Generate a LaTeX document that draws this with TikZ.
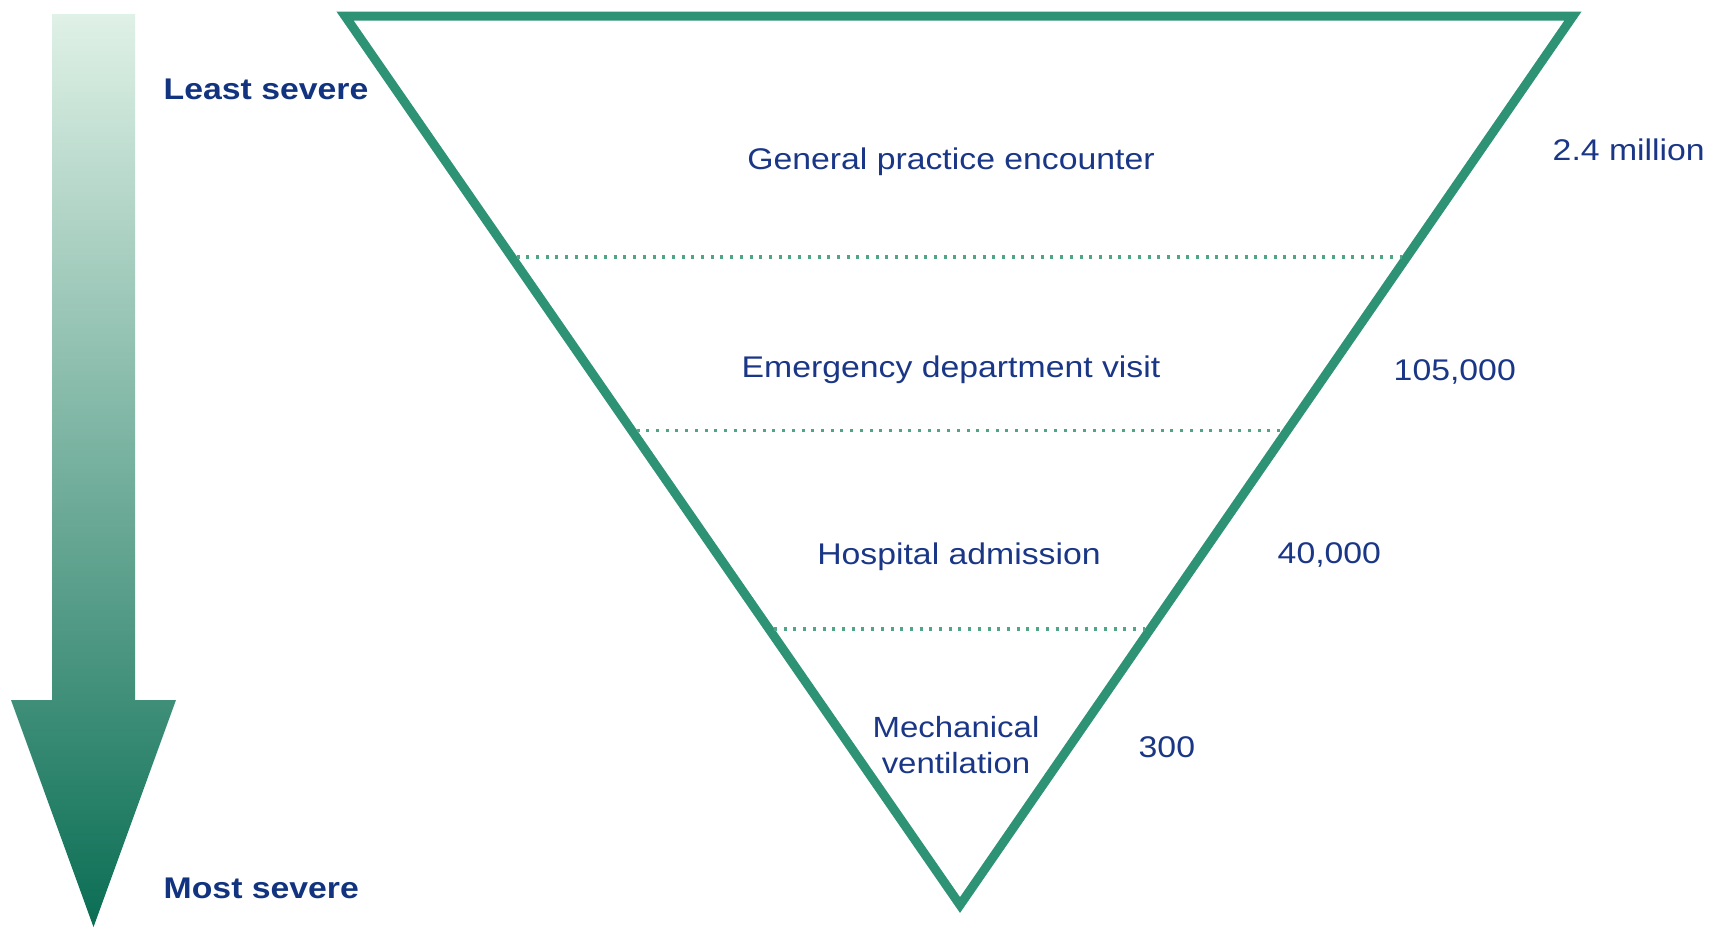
\documentclass[tikz,border=0pt]{standalone}
\usepackage{fontspec}
\setmainfont{Liberation Sans}[FakeStretch=1.13]
\usepackage{xcolor}
\usetikzlibrary{calc}

\definecolor{funnelgreen}{RGB}{46,146,116}
\definecolor{dotgreen}{RGB}{80,166,132}
\definecolor{labelblue}{RGB}{26,54,134}
\definecolor{headblue}{RGB}{18,52,128}
\definecolor{arrowtop}{RGB}{224,241,231}
\definecolor{arrowmid}{RGB}{98,170,142}
\definecolor{arrowbot}{RGB}{10,110,84}

\begin{document}
\begin{tikzpicture}[
  x=0.01cm, y=-0.01cm,
  font=\fontsize{8.5}{10}\selectfont,
  band/.style={text=labelblue, inner sep=0pt, anchor=base, align=center},
  count/.style={text=labelblue, inner sep=0pt, anchor=base west},
  ends/.style={text=headblue, inner sep=0pt, anchor=base west, font=\fontsize{8.5}{10}\selectfont\bfseries},
  edge/.style={draw=funnelgreen, line width=0.09cm, line join=miter},
  divider/.style={draw=dotgreen, line width=0.035cm, dash pattern=on 0.03cm off 0.067cm}
]
\useasboundingbox (0,0) rectangle (1709,927);

% severity arrow
\shade[top color=arrowtop, middle color=arrowmid, bottom color=arrowbot]
  (52,14) -- (135,14) -- (135,700) -- (176,700) -- (93.5,927) -- (11,700) -- (52,700) -- cycle;
\node[ends] (least) at (163,99) {Least severe};
\node[ends] (most) at (163,898) {Most severe};

% funnel
\coordinate (tl) at (345,16);
\coordinate (tr) at (1573,16);
\coordinate (bt) at (960,905);
\draw[edge] (tl) -- (tr) -- (bt) -- cycle;

% band dividers
\coordinate (l1) at ($(tl)!0.271!(bt)+(5,0)$);
\coordinate (r1) at ($(tr)!0.271!(bt)+(-5,0)$);
\coordinate (l2) at ($(tl)!0.466!(bt)+(5,0)$);
\coordinate (r2) at ($(tr)!0.466!(bt)+(-5,0)$);
\coordinate (l3) at ($(tl)!0.6895!(bt)+(5,0)$);
\coordinate (r3) at ($(tr)!0.6895!(bt)+(-5,0)$);
\draw[divider] (l1) -- (r1);
\draw[divider] (l2) -- (r2);
\draw[divider] (l3) -- (r3);

% band labels
\node[band] (gp) at (951,169) {General practice encounter};
\node[band] (ed) at (951,377) {Emergency department visit};
\node[band] (ha) at (959,564) {Hospital admission};
\node[band, anchor=north, font=\fontsize{8.3}{10.1}\selectfont] (mv) at (956,716) {Mechanical\\ventilation};

% counts
\node[count] (ngp) at (1552,160) {2.4 million};
\node[count] (ned) at (1393,380) {105,000};
\node[count] (nha) at (1277,563) {40,000};
\node[count] (nmv) at (1138,757) {300};
\end{tikzpicture}
\end{document}
